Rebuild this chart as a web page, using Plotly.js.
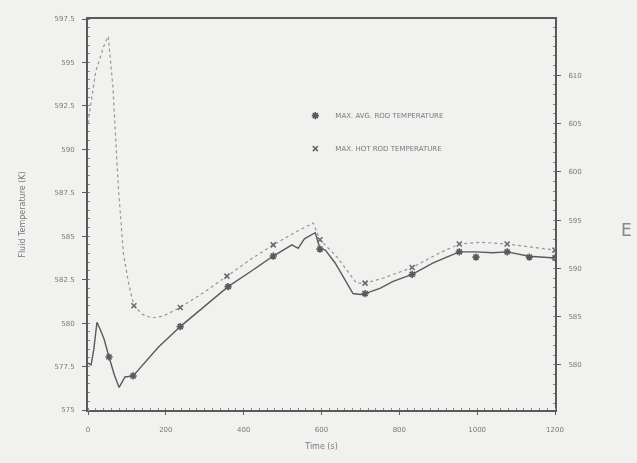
<!DOCTYPE html>
<html>
<head>
<meta charset="utf-8">
<script src="https://cdn.plot.ly/plotly-3.0.1.min.js"></script>
<style>
html,body{margin:0;padding:0;background:#f1f1f0;}
#chart{width:637px;height:463px;filter:blur(0.45px);}
</style>
</head>
<body>
<div id="chart"></div>
<script>
// Series: MAX. AVG. ROD TEMPERATURE (solid)
const avgT = [0, 8, 15, 23, 32, 41, 54, 68, 80, 95, 116, 141, 180, 237, 300, 360, 420, 476, 524, 540, 556, 584, 596, 610, 635, 681, 700, 712, 750, 784, 833, 887, 954, 997, 1040, 1077, 1134, 1200];
const avgK = [577.7, 577.6, 578.5, 580.05, 579.6, 579.1, 578.05, 577.0, 576.3, 576.9, 576.96, 577.6, 578.6, 579.8, 581.0, 582.1, 583.0, 583.86, 584.5, 584.3, 584.85, 585.2, 584.3, 584.2, 583.46, 581.7, 581.65, 581.7, 582.0, 582.4, 582.8, 583.46, 584.1, 584.1, 584.05, 584.1, 583.85, 583.75];
const avgMarkT = [54, 116, 237, 360, 476, 596, 712, 833, 954, 997, 1077, 1134, 1200];
const avgMarkK = [578.05, 576.96, 579.8, 582.1, 583.86, 584.26, 581.7, 582.8, 584.1, 583.8, 584.1, 583.8, 583.75];

// Series: MAX. HOT ROD TEMPERATURE (dotted)
const hotT = [0, 20, 40, 52, 64, 78, 91, 105, 118, 140, 164, 193, 237, 300, 357, 420, 476, 530, 579, 596, 640, 690, 712, 760, 833, 900, 954, 1010, 1077, 1140, 1200];
const hotK = [591.5, 594.5, 595.9, 596.5, 593.6, 587.8, 584.0, 582.2, 581.0, 580.5, 580.3, 580.4, 580.9, 581.8, 582.7, 583.7, 584.5, 585.2, 585.76, 584.8, 583.8, 582.3, 582.3, 582.6, 583.2, 584.0, 584.55, 584.65, 584.55, 584.35, 584.2];
const hotMarkT = [118, 237, 357, 476, 596, 712, 833, 954, 1077, 1200];
const hotMarkK = [581.0, 580.9, 582.7, 584.5, 584.8, 582.3, 583.2, 584.55, 584.55, 584.2];

// Axis ticks
const xTicks = [0, 200, 400, 600, 800, 1000, 1200];
const xTickText = ['0', '200', '400', '600', '800', '1000', '1200'];
const yTicks = [575, 577.5, 580, 582.5, 585, 587.5, 590, 592.5, 595, 597.5];
const yTickText = ['575', '577.5', '580', '582.5', '585', '587.5', '590', '592.5', '595', '597.5'];
const y2Ticks = [580, 585, 590, 595, 600, 605, 610];
const y2TickText = ['580', '585', '590', '595', '600', '605', '610'];

const kRange = [575, 597.5];
const k2f = k => (k - 273.15) * 1.8 + 32;

const ink = '#5a5a5a';
const txt = '#7a7a7a';

const traces = [
  {x: avgT, y: avgK, mode: 'lines', line: {color: ink, width: 1.4}, showlegend: false, hoverinfo: 'skip'},
  {x: hotT, y: hotK, mode: 'lines', line: {color: '#969696', width: 1.2, dash: 'dot'}, showlegend: false, hoverinfo: 'skip'},
  {x: avgMarkT, y: avgMarkK, mode: 'markers', name: 'MAX. AVG. ROD TEMPERATURE', legendgroup: 'a',
   marker: {symbol: 'asterisk-open', size: 6, color: ink, line: {color: ink, width: 1.6}}},
  {x: hotMarkT, y: hotMarkK, mode: 'markers', name: 'MAX. HOT ROD TEMPERATURE', legendgroup: 'b',
   marker: {symbol: 'x-thin-open', size: 5, color: '#6a6a6a', line: {color: '#6a6a6a', width: 1.6}}},
  {x: [0], y: [k2f(kRange[0])], yaxis: 'y2', mode: 'markers', marker: {opacity: 0}, showlegend: false, hoverinfo: 'skip'}
];

const layout = {
  width: 637, height: 463,
  paper_bgcolor: '#f1f1f0', plot_bgcolor: '#f1f1f0',
  margin: {l: 88, r: 82, t: 19, b: 53},
  font: {family: 'DejaVu Sans, sans-serif', size: 7, color: txt},
  showlegend: true,
  legend: {x: 0.444, y: 0.79, xanchor: 'left', yanchor: 'top', bgcolor: 'rgba(0,0,0,0)',
           font: {size: 7, color: txt}, tracegroupgap: 14, traceorder: 'grouped', itemwidth: 30},
  xaxis: {range: [0, 1200], tickvals: xTicks, ticktext: xTickText, showgrid: false, zeroline: false,
          showline: true, linecolor: ink, linewidth: 2, mirror: true, ticks: 'outside', ticklen: 3,
          tickcolor: ink, minor: {dtick: 20, ticks: 'inside', ticklen: 2, tickcolor: '#8a8a8a'},
          tickfont: {size: 7, color: txt}, ticklabelstandoff: 9,
          title: {text: 'Time (s)', font: {size: 8, color: txt}, standoff: 10}},
  yaxis: {range: kRange, tickvals: yTicks, ticktext: yTickText, showgrid: false, zeroline: false,
          showline: true, linecolor: ink, linewidth: 2, ticks: 'outside', ticklen: 4, tickcolor: ink,
          minor: {dtick: 0.5, ticks: 'inside', ticklen: 2, tickcolor: '#8a8a8a'},
          tickfont: {size: 7, color: txt}, ticklabelstandoff: 6,
          title: {text: 'Fluid Temperature (K)', font: {size: 8, color: txt}, standoff: 28}},
  yaxis2: {overlaying: 'y', side: 'right', range: [k2f(kRange[0]), k2f(kRange[1])],
           tickvals: y2Ticks, ticktext: y2TickText, showgrid: false, zeroline: false,
           showline: true, linecolor: ink, linewidth: 2, ticks: 'outside', ticklen: 4, tickcolor: ink,
           minor: {dtick: 1, ticks: 'inside', ticklen: 2, tickcolor: '#8a8a8a'},
           tickfont: {size: 7, color: txt}, ticklabelstandoff: 6},
  annotations: [
    {text: 'E', xref: 'paper', yref: 'paper', x: 1.17, y: 0.46, showarrow: false,
     font: {size: 17, color: '#888888', family: 'DejaVu Sans, sans-serif'}}
  ]
};

Plotly.newPlot('chart', traces, layout, {displayModeBar: false, staticPlot: true});
</script>
</body>
</html>
